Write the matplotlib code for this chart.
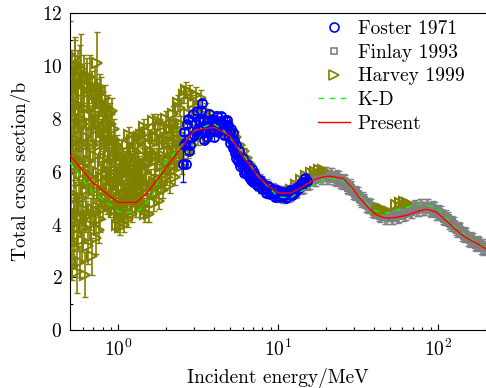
import matplotlib
matplotlib.use("Agg")
import matplotlib.pyplot as plt
from matplotlib.lines import Line2D
from matplotlib.ticker import LogLocator, MultipleLocator

plt.rcParams['font.family'] = ['cmr10', 'DejaVu Serif']
plt.rcParams['mathtext.fontset'] = 'cm'
plt.rcParams['axes.formatter.use_mathtext'] = True
plt.rcParams['axes.unicode_minus'] = False

# Harvey 1999 (olive triangles)
harvey_e = [
    0.500, 0.504, 0.508, 0.512, 0.516, 0.520, 0.524, 0.528, 0.532, 0.536,
    0.541, 0.546, 0.551, 0.556, 0.561, 0.566, 0.571, 0.577, 0.583, 0.589,
    0.595, 0.601, 0.607, 0.613, 0.619, 0.626, 0.633, 0.640, 0.647, 0.654,
    0.661, 0.668, 0.676, 0.684, 0.692, 0.700,
    0.708, 0.716, 0.724, 0.732, 0.740, 0.748, 0.756, 0.765, 0.774, 0.783,
    0.792, 0.801, 0.810, 0.819, 0.828, 0.838, 0.848, 0.858, 0.868, 0.878,
    0.888, 0.898, 0.909, 0.920, 0.931, 0.942, 0.953, 0.964, 0.976, 0.988,
    1.000, 1.012, 1.024, 1.036, 1.049, 1.062, 1.075, 1.088, 1.101, 1.115,
    1.129, 1.143, 1.157, 1.171, 1.185, 1.200, 1.215, 1.230, 1.245, 1.260,
    1.276, 1.292, 1.308, 1.324, 1.340, 1.357, 1.374, 1.391, 1.408, 1.426,
    1.444, 1.462, 1.480,
    1.50, 1.53, 1.56, 1.59, 1.62, 1.65, 1.68, 1.71, 1.74, 1.77,
    1.80, 1.83, 1.87, 1.91, 1.95, 1.99, 2.03, 2.07, 2.11, 2.15,
    2.19, 2.23, 2.27, 2.32, 2.37, 2.42, 2.47,
    2.52, 2.57, 2.62, 2.67, 2.72, 2.77, 2.83, 2.89, 2.95, 3.01,
    3.08, 3.15, 3.22, 3.30, 3.38, 3.46, 3.55, 3.64, 3.74, 3.85, 3.96,
    4.1, 4.3, 4.5, 4.7, 4.9, 5.1, 5.3, 5.5, 5.8, 6.1,
    6.4, 6.7, 7.0, 7.4, 7.8, 8.2, 8.7, 9.2, 9.8, 10.5,
    11.2, 12.0, 13.0, 14.0, 15.0, 16.0, 17.0, 18.0, 19.0,
    42.0, 44.0, 46.0, 55.0, 58.0, 61.0, 64.0,
    # second pass through the resonance region
    0.502, 0.506, 0.510, 0.514, 0.518, 0.522, 0.526, 0.530, 0.534, 0.538,
    0.543, 0.548, 0.553, 0.558, 0.563, 0.568, 0.574, 0.580, 0.586, 0.592,
    0.598, 0.604, 0.610, 0.616, 0.622, 0.629, 0.636, 0.643, 0.650, 0.657,
    0.664, 0.672, 0.680, 0.688, 0.696,
    0.712, 0.720, 0.728, 0.736, 0.744, 0.752, 0.760, 0.769, 0.778, 0.787,
    0.796, 0.805, 0.814, 0.823, 0.833, 0.843, 0.853, 0.863, 0.873, 0.883,
    0.893, 0.903, 0.914, 0.925, 0.936, 0.947, 0.958, 0.970, 0.982, 0.994,
    1.006, 1.018, 1.030, 1.042, 1.055, 1.068, 1.081, 1.094, 1.108, 1.122,
    1.136, 1.150, 1.164, 1.178, 1.192, 1.207, 1.222, 1.237, 1.252, 1.268,
    1.284, 1.300, 1.316, 1.332, 1.348, 1.365, 1.382, 1.399, 1.417, 1.435,
    1.453, 1.471, 1.490,
    1.515, 1.545, 1.575, 1.605, 1.635, 1.665, 1.695, 1.725, 1.755, 1.785,
    1.815, 1.85, 1.89, 1.93, 1.97, 2.01, 2.05, 2.09, 2.13, 2.17,
    2.21, 2.25, 2.30, 2.35, 2.40, 2.45, 2.49,
]
harvey_xs = [
    10.4, 8.2, 6.0, 4.0, 2.4, 9.3, 7.1, 5.0, 3.1, 10.0,
    8.6, 6.5, 2.2, 4.4, 9.6, 7.6, 5.6, 2.6, 9.9, 8.0,
    3.4, 6.2, 4.6, 9.5, 2.1, 7.3, 5.3, 9.2, 3.2, 8.1,
    6.4, 9.6, 4.4, 2.8, 8.6, 7.0,
    5.3, 9.2, 3.5, 7.6, 10.1, 6.0, 8.6, 4.2, 7.0, 9.0,
    5.2, 8.0, 4.6, 6.5, 8.8, 5.6, 7.4, 4.8, 8.4, 6.2,
    4.7, 7.8, 5.4, 8.3, 6.6, 4.5, 7.2, 5.2, 6.2, 4.0,
    6.9, 5.0, 3.9, 6.0, 4.5, 6.6, 5.4, 4.0, 6.2, 4.8,
    7.0, 5.8, 4.2, 7.4, 6.4, 5.1, 7.2, 4.4, 6.0, 5.3,
    6.8, 4.6, 5.7, 7.0, 4.9, 6.3, 5.3, 7.4, 4.7, 6.6,
    5.6, 7.7, 4.4,
    6.0, 7.5, 4.4, 6.8, 5.3, 7.9, 4.8, 6.4, 7.3, 5.5,
    4.9, 7.7, 6.2, 5.3, 7.0, 8.0, 5.8, 6.8, 5.5, 7.6,
    8.2, 6.2, 5.8, 7.1, 8.6, 6.5, 7.8,
    6.2, 8.9, 7.3, 9.1, 6.8, 8.2, 9.0, 7.0, 8.6, 7.6,
    8.9, 7.3, 8.4, 8.8, 7.4, 8.0, 8.3, 7.5, 8.0, 7.7, 8.0,
    7.9, 7.7, 7.8, 7.6, 7.5, 7.6, 7.5, 7.3, 7.0, 6.8,
    6.5, 6.3, 5.9, 5.7, 5.5, 5.4, 5.3, 5.2, 5.2, 5.2,
    5.2, 5.3, 5.5, 5.7, 5.85, 5.95, 6.0, 6.05, 6.05,
    4.55, 4.6, 4.55, 4.75, 4.8, 4.85, 4.8,
    9.0, 7.0, 5.2, 3.3, 9.8, 8.6, 6.2, 4.4, 10.3, 7.8,
    5.0, 9.2, 7.2, 3.6, 8.5, 6.4, 4.3, 10.0, 7.0, 5.0,
    9.0, 7.8, 3.9, 8.4, 6.0, 4.3, 9.6, 7.0, 5.6, 9.0,
    4.0, 7.8, 5.8, 9.2, 4.6,
    8.2, 6.6, 4.5, 9.0, 5.4, 7.8, 3.8, 9.2, 5.8, 7.5,
    8.6, 6.4, 7.6, 5.0, 7.0, 8.4, 6.0, 7.8, 5.4, 7.2,
    8.2, 6.0, 7.0, 5.0, 7.6, 5.8, 6.6, 4.6, 7.0, 5.6,
    5.8, 4.4, 6.6, 5.4, 5.9, 4.6, 6.1, 5.1, 4.4, 6.0,
    4.9, 6.6, 5.4, 6.0, 5.0, 6.5, 5.7, 5.2, 6.8, 4.8,
    5.5, 6.4, 5.1, 6.0, 7.3, 5.7, 4.8, 6.2, 5.6, 7.2,
    4.7, 6.2, 5.4,
    5.0, 6.3, 7.0, 5.8, 6.6, 5.6, 7.3, 5.2, 6.6, 7.9,
    6.0, 5.5, 7.2, 6.6, 5.9, 7.2, 6.4, 7.6, 6.2, 6.7,
    7.1, 7.8, 6.6, 7.6, 7.2, 8.4, 6.8,
]
harvey_err = [
    1.3, 0.8, 0.8, 0.6, 0.5, 0.9, 0.8, 0.7, 0.6, 1.0,
    0.8, 0.7, 0.8, 0.6, 1.0, 0.8, 0.7, 0.6, 1.3, 0.8,
    0.8, 0.7, 0.6, 0.9, 0.85, 0.7, 0.6, 0.9, 0.7, 0.8,
    0.6, 0.8, 0.6, 0.7, 0.7, 0.6,
    0.5, 0.8, 0.6, 0.6, 1.2, 0.5, 0.6, 0.5, 0.5, 0.6,
    0.5, 0.5, 0.4, 0.5, 0.5, 0.4, 0.5, 0.4, 0.5, 0.4,
    0.4, 0.5, 0.4, 0.5, 0.4, 0.4, 0.4, 0.4, 0.4, 0.3,
    0.3, 0.3, 0.3, 0.3, 0.3, 0.3, 0.3, 0.3, 0.3, 0.3,
    0.3, 0.3, 0.3, 0.3, 0.3, 0.3, 0.3, 0.3, 0.3, 0.3,
    0.3, 0.3, 0.3, 0.3, 0.3, 0.3, 0.3, 0.3, 0.3, 0.3,
    0.3, 0.3, 0.3,
    0.3, 0.3, 0.3, 0.3, 0.3, 0.3, 0.3, 0.3, 0.3, 0.3,
    0.3, 0.3, 0.3, 0.3, 0.3, 0.3, 0.3, 0.3, 0.3, 0.3,
    0.3, 0.3, 0.3, 0.3, 0.3, 0.3, 0.3,
    0.3, 0.3, 0.3, 0.3, 0.3, 0.3, 0.3, 0.3, 0.3, 0.3,
    0.3, 0.3, 0.3, 0.3, 0.3, 0.3, 0.3, 0.3, 0.3, 0.3, 0.3,
    0.1, 0.1, 0.1, 0.1, 0.1, 0.1, 0.1, 0.1, 0.1, 0.1,
    0.1, 0.1, 0.1, 0.1, 0.1, 0.1, 0.1, 0.1, 0.1, 0.1,
    0.1, 0.1, 0.1, 0.1, 0.1, 0.1, 0.1, 0.1, 0.1,
    0.1, 0.1, 0.1, 0.1, 0.1, 0.1, 0.1,
    0.7, 0.7, 0.7, 0.6, 0.8, 0.7, 0.7, 0.6, 0.8, 0.7,
    0.6, 0.8, 0.7, 0.6, 0.7, 0.7, 0.6, 0.8, 0.7, 0.6,
    0.7, 0.7, 0.6, 0.7, 0.6, 0.6, 0.7, 0.6, 0.6, 0.7,
    0.6, 0.6, 0.6, 0.6, 0.5,
    0.5, 0.5, 0.5, 0.5, 0.5, 0.5, 0.5, 0.5, 0.5, 0.5,
    0.5, 0.4, 0.4, 0.4, 0.4, 0.4, 0.4, 0.4, 0.4, 0.4,
    0.4, 0.4, 0.4, 0.4, 0.4, 0.4, 0.4, 0.4, 0.4, 0.4,
    0.3, 0.3, 0.3, 0.3, 0.3, 0.3, 0.3, 0.3, 0.3, 0.3,
    0.3, 0.3, 0.3, 0.3, 0.3, 0.3, 0.3, 0.3, 0.3, 0.3,
    0.3, 0.3, 0.3, 0.3, 0.3, 0.3, 0.3, 0.3, 0.3, 0.3,
    0.3, 0.3, 0.3,
    0.3, 0.3, 0.3, 0.3, 0.3, 0.3, 0.3, 0.3, 0.3, 0.3,
    0.3, 0.3, 0.3, 0.3, 0.3, 0.3, 0.3, 0.3, 0.3, 0.3,
    0.3, 0.3, 0.3, 0.3, 0.3, 0.3, 0.3,
]

# Finlay 1993 (grey squares)
finlay_e = [
    5.00, 5.24, 5.50, 5.75, 6.03, 6.31, 6.61, 6.92, 7.24, 7.59,
    7.94, 8.32, 8.71, 9.12, 9.55, 10.0, 10.5, 11.0, 11.5, 12.0,
    12.6, 13.2, 13.8, 14.5, 15.1, 15.8, 16.6, 17.4, 18.2, 19.1,
    20.0, 20.9, 21.9, 22.9, 24.0, 25.1, 26.3, 27.5, 28.8, 30.2,
    31.6, 33.1, 34.7, 36.3, 38.0, 39.8, 41.7, 43.7, 45.7, 47.9,
    50.1, 52.5, 55.0, 57.5, 60.3, 63.1, 66.1, 69.2, 72.4, 75.9,
    79.4, 83.2, 87.1, 91.2, 95.5, 100., 105., 110., 115., 120.,
    126., 132., 138., 145., 151., 158., 166., 174., 182., 191., 200.,
    5.12, 5.37, 5.62, 5.89, 6.17, 6.46, 6.76, 7.08, 7.41, 7.76,
    8.13, 8.51, 8.91, 9.33, 9.77, 10.2, 10.7, 11.2, 11.7, 12.3,
    12.9, 13.5, 14.1, 14.8, 15.5, 16.2, 17.0, 17.8, 18.6, 19.5,
    20.4, 21.4, 22.4, 23.4, 24.5, 25.7, 26.9, 28.2, 29.5, 30.9,
    32.4, 33.9, 35.5, 37.2, 38.9, 40.7, 42.7, 44.7, 46.8, 49.0,
    51.3, 53.7, 56.2, 58.9, 61.7, 64.6, 67.6, 70.8, 74.1, 77.6,
    81.3, 85.1, 89.1, 93.3, 97.7, 102., 107., 112., 117., 123.,
    129., 135., 141., 148., 155., 162., 170., 178., 186., 195.,
]
finlay_xs = [
    7.35, 7.0, 6.85, 6.55, 6.45, 6.15, 6.1, 5.85, 5.85, 5.6,
    5.6, 5.4, 5.4, 5.25, 5.28, 5.12, 5.2, 5.07, 5.2, 5.14,
    5.33, 5.29, 5.49, 5.46, 5.66, 5.61, 5.79, 5.72, 5.88, 5.78,
    5.91, 5.78, 5.88, 5.72, 5.78, 5.58, 5.61, 5.39, 5.4, 5.16,
    5.16, 4.92, 4.92, 4.69, 4.7, 4.49, 4.53, 4.34, 4.42, 4.27,
    4.38, 4.27, 4.42, 4.34, 4.5, 4.42, 4.59, 4.51, 4.67, 4.58,
    4.72, 4.6, 4.7, 4.54, 4.6, 4.41, 4.44, 4.22, 4.24, 4.01,
    4.02, 3.79, 3.8, 3.58, 3.61, 3.4, 3.43, 3.23, 3.28, 3.1, 3.13,
    7.1, 6.98, 6.64, 6.56, 6.24, 6.18, 5.91, 5.9, 5.66, 5.66,
    5.44, 5.46, 5.26, 5.32, 5.14, 5.22, 5.08, 5.2, 5.11, 5.29,
    5.25, 5.45, 5.41, 5.62, 5.57, 5.76, 5.69, 5.86, 5.77, 5.91,
    5.79, 5.89, 5.74, 5.81, 5.62, 5.66, 5.44, 5.46, 5.22, 5.22,
    4.98, 4.98, 4.74, 4.76, 4.54, 4.57, 4.37, 4.44, 4.28, 4.38,
    4.26, 4.4, 4.32, 4.48, 4.4, 4.56, 4.49, 4.65, 4.56, 4.71,
    4.6, 4.71, 4.56, 4.63, 4.44, 4.49, 4.27, 4.29, 4.07, 4.08,
    3.84, 3.86, 3.64, 3.66, 3.44, 3.48, 3.27, 3.32, 3.13, 3.19,
]
finlay_err = [0.25] * len(finlay_e)

# Foster 1971 (blue circles)
foster_e = [
    2.55, 2.57, 2.60, 2.62, 2.66, 2.70, 2.74, 2.78, 2.82, 2.88,
    2.94, 2.97, 3.02, 3.10, 3.15, 3.20, 3.25, 3.30, 3.35, 3.42,
    3.50, 3.58, 3.62, 3.66, 3.75, 3.85, 3.92, 4.00, 4.08, 4.15,
    4.25, 4.34, 4.45, 4.55, 4.66, 4.76, 4.87, 4.95, 5.00, 5.08,
    5.16, 5.24, 5.30, 5.38, 5.45, 5.50, 5.63, 5.70, 5.75, 5.95,
    6.05, 6.15, 6.22, 6.40, 6.55, 6.70, 6.90, 7.00, 7.20, 7.40,
    7.70, 7.90, 8.10, 8.40, 8.70, 8.90, 9.30, 9.60, 9.87, 10.3,
    10.8, 11.3, 11.9, 12.5, 13.0, 13.7, 14.2, 14.7, 15.2,
    3.05, 3.38, 3.46, 3.70, 3.97, 4.20, 4.40, 4.60, 4.82, 5.04,
    5.20, 5.34, 5.58, 5.85, 6.10, 6.32, 6.62, 6.80, 7.10, 7.30,
    7.55, 7.80, 8.25, 8.55, 9.10, 9.45, 10.1, 10.5, 11.0, 11.6,
    12.2, 12.8, 13.3, 14.0, 14.5,
]
foster_xs = [
    6.3, 7.5, 7.0, 7.1, 6.3, 7.8, 8.0, 6.8, 7.0, 7.3,
    8.2, 7.4, 7.8, 8.3, 7.6, 7.65, 7.9, 8.3, 8.6, 7.6,
    7.5, 7.9, 7.3, 7.7, 7.5, 7.8, 8.0, 7.6, 7.9, 8.1,
    7.7, 7.9, 7.6, 7.8, 7.95, 7.6, 7.75, 7.3, 7.5, 7.6,
    7.2, 6.9, 7.2, 6.7, 7.0, 6.5, 6.4, 6.8, 6.2, 6.25,
    6.5, 5.95, 6.05, 6.3, 5.8, 5.87, 6.1, 5.6, 5.85, 5.5,
    5.7, 5.35, 5.55, 5.2, 5.45, 5.15, 5.35, 5.05, 5.3, 5.05,
    5.25, 5.0, 5.3, 5.15, 5.4, 5.5, 5.6, 5.75, 5.65,
    7.5, 8.0, 7.2, 8.2, 7.3, 7.5, 8.1, 7.4, 7.95, 7.1,
    7.45, 6.95, 6.65, 6.45, 6.25, 5.95, 6.15, 5.7, 5.95, 5.65,
    5.45, 5.6, 5.35, 5.3, 5.25, 5.15, 5.2, 5.15, 5.1, 5.2,
    5.1, 5.25, 5.35, 5.45, 5.6,
]
foster_err = [0.68] + [0.12] * (len(foster_e) - 1)

# K-D (green dashed)
kd_e = [0.5, 0.7, 0.87, 1.0, 1.06, 1.31, 1.63, 1.91, 2.5, 3.0, 3.9, 4.5,
        5.5, 7.7, 10.0, 12.0, 13.1, 15.8, 20.2, 25.0, 31.0, 40.0, 48.0,
        60.0, 80.0, 100.0, 130.0, 170.0, 200.0]
kd_xs = [6.35, 5.19, 4.8, 4.5, 4.46, 4.46, 5.03, 6.24, 7.0, 7.55, 7.83, 7.6,
         7.0, 5.75, 5.05, 5.0, 5.18, 5.41, 5.75, 5.7, 5.19, 4.54, 4.43,
         4.6, 4.8, 4.6, 3.85, 3.35, 3.12]

# Present (red solid)
present_e = [0.5, 0.7, 1.0, 1.3, 1.5, 3.0, 4.0, 5.0, 6.0, 7.4, 8.5, 10.0,
             12.0, 14.0, 16.5, 19.0, 21.0, 25.5, 29.0, 32.6, 37.0, 41.6,
             46.0, 50.0, 56.0, 64.0, 75.0, 85.0, 98.0, 115.0, 131.0, 150.0,
             175.0, 200.0]
present_xs = [6.62, 5.56, 4.84, 4.84, 5.15, 7.57, 7.68, 7.35, 6.6, 5.87, 5.5,
              5.2, 5.19, 5.4, 5.68, 5.8, 5.83, 5.75, 5.4, 4.99, 4.62, 4.35,
              4.26, 4.24, 4.28, 4.35, 4.5, 4.58, 4.47, 4.1, 3.78, 3.5,
              3.29, 3.08]

fig = plt.figure(figsize=(4.86, 3.88), dpi=100)
ax = fig.add_axes([0.144, 0.149, 0.856, 0.817])

olive = '#808000'
grey = '#808080'

ax.errorbar(finlay_e, finlay_xs, yerr=finlay_err, fmt='none', ecolor=grey,
            elinewidth=1.1, capsize=2, zorder=1)
ax.plot(finlay_e, finlay_xs, 's', ms=4.5, mfc='none', mec=grey, mew=1.5,
        zorder=1)

ax.errorbar(harvey_e, harvey_xs, yerr=harvey_err, fmt='none', ecolor=olive,
            elinewidth=1.2, capsize=2.5, zorder=2)
ax.plot(harvey_e, harvey_xs, '>', ms=7, mfc='none', mec=olive, mew=1.5,
        zorder=2)

ax.errorbar(foster_e, foster_xs, yerr=foster_err, fmt='none', ecolor='blue',
            elinewidth=0.9, capsize=2.5, zorder=3)
ax.plot(foster_e, foster_xs, 'o', ms=6.5, mfc='none', mec='blue', mew=1.3,
        zorder=3)

ax.plot(kd_e, kd_xs, '--', color='#00ff00', lw=1.0, dashes=(4, 4), zorder=4)
ax.plot(present_e, present_xs, '-', color='red', lw=1.0, zorder=5)

ax.set_xscale('log')
ax.set_xlim(0.5, 200)
ax.set_ylim(0, 12)
ax.yaxis.set_major_locator(MultipleLocator(2))
ax.yaxis.set_minor_locator(MultipleLocator(1))
ax.xaxis.set_minor_locator(LogLocator(base=10, subs=range(2, 10)))
ax.tick_params(which='both', direction='in', labelsize=14, width=0.8)
ax.tick_params(which='major', length=4)
ax.tick_params(which='minor', length=2)
ax.tick_params(axis='y', which='major', pad=5.5)
ax.tick_params(axis='x', which='major', pad=6)
ax.spines['right'].set_visible(False)

ax.set_xlabel('Incident energy/MeV', fontsize=14, labelpad=6)
ax.set_ylabel('Total cross section/b', fontsize=14, labelpad=8)

legend_handles = [
    Line2D([], [], ls='none', marker='o', ms=6.5, mfc='none', mec='blue', mew=1.2),
    Line2D([], [], ls='none', marker='s', ms=5, mfc='none', mec=grey, mew=1.2),
    Line2D([], [], ls='none', marker='>', ms=6.5, mfc='none', mec=olive, mew=1.2),
    Line2D([], [], ls='--', color='#00ff00', lw=1.0, dashes=(4, 4)),
    Line2D([], [], ls='-', color='red', lw=1.0),
]
legend_labels = ['Foster 1971', 'Finlay 1993', 'Harvey 1999', 'K-D', 'Present']
ax.legend(legend_handles, legend_labels, loc='upper right',
          frameon=False, fontsize=14, handlelength=1.65, labelspacing=0.3,
          handletextpad=0.4, borderaxespad=0.2, bbox_to_anchor=(0.976, 1.016))

fig.savefig('out.png', dpi=100)
